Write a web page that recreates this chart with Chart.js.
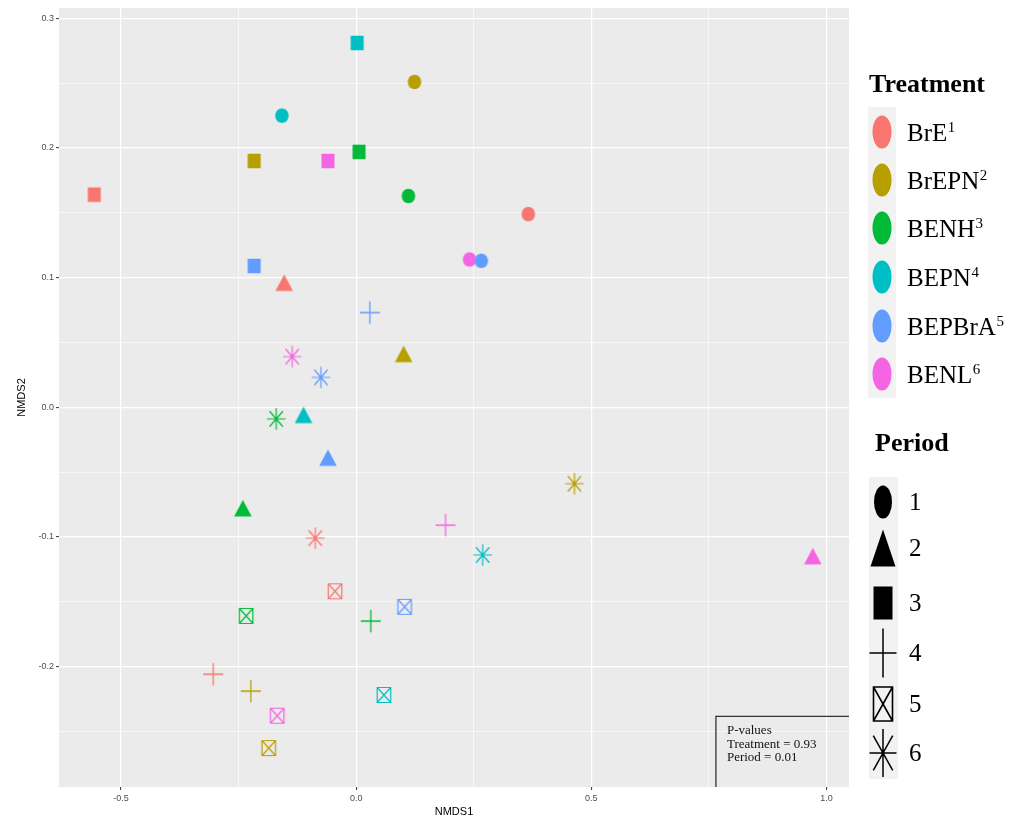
<!DOCTYPE html>
<html>
<head>
<meta charset="utf-8">
<script src="https://cdn.jsdelivr.net/npm/chart.js@4.4.1/dist/chart.umd.min.js"></script>
<style>
  html, body { margin: 0; padding: 0; background: #ffffff; }
  #wrap { width: 1012px; height: 820px; }
</style>
</head>
<body>
<div id="wrap"><canvas id="nmds" width="1012" height="820"></canvas></div>
<script>
// Treatments and sampling periods
const treatments = ['BrE', 'BrEPN', 'BENH', 'BEPN', 'BEPBrA', 'BENL'];
const treatmentNotes = ['1', '2', '3', '4', '5', '6'];
const periods = ['1', '2', '3', '4', '5', '6'];

// NMDS scores, one entry per period 1..6 (null = no sample)
const BrE_x    = [0.366, -0.153, -0.557, -0.304, -0.045, -0.087];
const BrE_y    = [0.149,  0.094,  0.164, -0.206, -0.142, -0.101];
const BrEPN_x  = [0.124,  0.101, -0.217, -0.224, -0.186,  0.464];
const BrEPN_y  = [0.251,  0.039,  0.190, -0.219, -0.263, -0.059];
const BENH_x   = [0.111, -0.241,  0.006,  0.031, -0.234, -0.170];
const BENH_y   = [0.163, -0.080,  0.197, -0.165, -0.161, -0.009];
const BEPN_x   = [-0.158, -0.112, 0.002,  null,   0.059,  0.269];
const BEPN_y   = [0.225, -0.008,  0.281,  null,  -0.222, -0.114];
const BEPBrA_x = [0.266, -0.060, -0.217,  0.029,  0.103, -0.075];
const BEPBrA_y = [0.113, -0.041,  0.109,  0.073, -0.154,  0.023];
const BENL_x   = [0.241,  0.971, -0.060,  0.190, -0.168, -0.136];
const BENL_y   = [0.114, -0.117,  0.190, -0.091, -0.238,  0.039];

// Axis ticks (major ones carry labels)
const xGridValues = [-0.5, -0.25, 0, 0.25, 0.5, 0.75, 1.0];
const xTickLabels = [-0.5, 0, 0.5, 1.0];
const yGridValues = [-0.25, -0.2, -0.15, -0.1, -0.05, 0, 0.05, 0.1, 0.15, 0.2, 0.25, 0.3];
const yTickLabels = [-0.2, -0.1, 0, 0.1, 0.2, 0.3];

// Test results shown in the corner box
const pValueLines = ['P-values', 'Treatment = 0.93', 'Period = 0.01'];

const seriesX = [BrE_x, BrEPN_x, BENH_x, BEPN_x, BEPBrA_x, BENL_x];
const seriesY = [BrE_y, BrEPN_y, BENH_y, BEPN_y, BEPBrA_y, BENL_y];

const hueColors = ['#F8766D', '#B79F00', '#00BA38', '#00BFC4', '#619CFF', '#F564E3'];
const periodShapes = ['circle', 'triangle', 'square', 'plus', 'sqcross', 'asterisk'];

const SERIF = '"Liberation Serif", "Times New Roman", serif';
const SANS = '"Liberation Sans", Arial, sans-serif';

// Draws one marker shape centred on (cx, cy); triangles are centred on their centroid
function drawShape(ctx, shape, cx, cy, w, h, color, lw) {
  ctx.save();
  ctx.fillStyle = color;
  ctx.strokeStyle = color;
  ctx.lineWidth = lw;
  ctx.lineCap = 'butt';
  const hw = w / 2, hh = h / 2;
  ctx.beginPath();
  if (shape === 'circle') {
    ctx.ellipse(cx, cy, hw, hh, 0, 0, Math.PI * 2);
    ctx.fill();
  } else if (shape === 'triangle') {
    ctx.moveTo(cx, cy - h * 2 / 3);
    ctx.lineTo(cx + hw, cy + h / 3);
    ctx.lineTo(cx - hw, cy + h / 3);
    ctx.closePath();
    ctx.fill();
  } else if (shape === 'square') {
    ctx.rect(cx - hw, cy - hh, w, h);
    ctx.fill();
  } else if (shape === 'plus') {
    ctx.moveTo(cx - hw, cy); ctx.lineTo(cx + hw, cy);
    ctx.moveTo(cx, cy - hh); ctx.lineTo(cx, cy + hh);
    ctx.stroke();
  } else if (shape === 'sqcross') {
    ctx.rect(cx - hw, cy - hh, w, h);
    ctx.moveTo(cx - hw, cy - hh); ctx.lineTo(cx + hw, cy + hh);
    ctx.moveTo(cx + hw, cy - hh); ctx.lineTo(cx - hw, cy + hh);
    ctx.stroke();
  } else if (shape === 'asterisk') {
    const dx = hw * 0.72, dy = hh * 0.72;
    ctx.moveTo(cx - hw, cy); ctx.lineTo(cx + hw, cy);
    ctx.moveTo(cx, cy - hh); ctx.lineTo(cx, cy + hh);
    ctx.moveTo(cx - dx, cy - dy); ctx.lineTo(cx + dx, cy + dy);
    ctx.moveTo(cx + dx, cy - dy); ctx.lineTo(cx - dx, cy + dy);
    ctx.stroke();
  }
  ctx.restore();
}

// Marker sprites used as point styles on the scatter
const markerSize = {
  circle:   [13.5, 14.5, 0],
  triangle: [17.5, 16.5, 0],
  square:   [13, 14.5, 0],
  plus:     [20, 22.5, 1.3],
  sqcross:  [13.5, 15, 1.2],
  asterisk: [18.5, 21.5, 1.2]
};
const spriteCache = {};
function sprite(shape, color) {
  const key = shape + color;
  if (!spriteCache[key]) {
    const c = document.createElement('canvas');
    c.width = 32; c.height = 32;
    const g = c.getContext('2d');
    const [w, h, lw] = markerSize[shape];
    drawShape(g, shape, 16, 16, w, h, color, lw);
    spriteCache[key] = c;
  }
  return spriteCache[key];
}

const datasets = treatments.map((name, t) => {
  const pts = [];
  periods.forEach((p, i) => {
    const x = seriesX[t][i], y = seriesY[t][i];
    if (x !== null && y !== null) pts.push({ x: x, y: y, period: i });
  });
  return {
    label: name,
    data: pts,
    pointRadius: 7,
    pointStyle: ctx => sprite(periodShapes[ctx.raw.period], hueColors[t]),
    backgroundColor: hueColors[t],
    borderColor: hueColors[t],
    showLine: false
  };
});

const isIn = (v, list) => list.some(m => Math.abs(m - v) < 1e-9);

// Grey panel behind the plotting area
const panelPlugin = {
  id: 'panel',
  beforeDraw(chart) {
    const a = chart.chartArea, ctx = chart.ctx;
    ctx.save();
    ctx.fillStyle = '#EBEBEB';
    ctx.fillRect(a.left, a.top, a.right - a.left, a.bottom - a.top);
    ctx.restore();
  }
};

// Corner box with the test results
const pValuePlugin = {
  id: 'pvalues',
  afterDatasetsDraw(chart) {
    const a = chart.chartArea, ctx = chart.ctx;
    const xs = chart.scales.x, ys = chart.scales.y;
    const bx = xs.getPixelForValue(0.765);
    const by = ys.getPixelForValue(-0.2385);
    ctx.save();
    ctx.beginPath();
    ctx.rect(a.left, a.top, a.right - a.left, a.bottom - a.top);
    ctx.clip();
    ctx.strokeStyle = '#333333';
    ctx.lineWidth = 1.3;
    ctx.beginPath();
    ctx.moveTo(bx, a.bottom + 2);
    ctx.lineTo(bx, by);
    ctx.lineTo(a.right + 2, by);
    ctx.stroke();
    ctx.fillStyle = '#111111';
    ctx.font = '13px ' + SERIF;
    ctx.textBaseline = 'alphabetic';
    pValueLines.forEach((s, i) => ctx.fillText(s, bx + 11, by + 18 + i * 13.5));
    ctx.restore();
  }
};

// Treatment (colour) and Period (shape) legends on the right
const legendPlugin = {
  id: 'sideLegend',
  afterDraw(chart) {
    const ctx = chart.ctx;
    ctx.save();
    ctx.fillStyle = '#000';
    ctx.textBaseline = 'alphabetic';
    ctx.font = 'bold 26px ' + SERIF;
    ctx.fillText('Treatment', 869, 92);

    ctx.fillStyle = '#F2F2F2';
    ctx.fillRect(868, 107, 28, 291);
    const tRows = [132, 180, 228, 277, 326, 374];
    treatments.forEach((name, i) => {
      const yc = tRows[i];
      drawShape(ctx, 'circle', 882, yc, 19, 33, hueColors[i], 0);
      ctx.fillStyle = '#000';
      ctx.font = '25px ' + SERIF;
      ctx.fillText(name, 907, yc + 8.5);
      const w = ctx.measureText(name).width;
      ctx.font = '15px ' + SERIF;
      ctx.fillText(treatmentNotes[i], 907 + w + 0.5, yc - 0.5);
    });

    ctx.fillStyle = '#000';
    ctx.font = 'bold 26px ' + SERIF;
    ctx.fillText('Period', 875, 451);

    ctx.fillStyle = '#F2F2F2';
    ctx.fillRect(869, 477, 29, 302);
    const pRows = [502, 548, 603, 653, 704, 753];
    const keySize = {
      circle: [18, 33, 0], triangle: [25, 37, 0], square: [19, 33, 0],
      plus: [27, 49, 1.5], sqcross: [19, 34, 1.6], asterisk: [27, 48, 1.5]
    };
    periods.forEach((p, i) => {
      const shape = periodShapes[i];
      const [w, h, lw] = keySize[shape];
      const cy = shape === 'triangle' ? pRows[i] + h / 6 : pRows[i];
      drawShape(ctx, shape, 883, cy, w, h, '#000', lw);
      ctx.fillStyle = '#000';
      ctx.font = '25px ' + SERIF;
      ctx.fillText(p, 909, pRows[i] + 8);
    });
    ctx.restore();
  }
};

new Chart(document.getElementById('nmds'), {
  type: 'scatter',
  data: { datasets: datasets },
  plugins: [panelPlugin, pValuePlugin, legendPlugin],
  options: {
    responsive: false,
    animation: false,
    events: [],
    layout: { padding: { top: 8, right: 163, left: 0, bottom: 0 } },
    plugins: { legend: { display: false }, tooltip: { enabled: false } },
    scales: {
      x: {
        type: 'linear',
        position: 'bottom',
        min: -0.632,
        max: 1.048,
        afterBuildTicks: s => { s.ticks = xGridValues.map(v => ({ value: v })); },
        afterFit: s => { s.height = 33; },
        border: { display: false },
        grid: {
          color: '#FFFFFF',
          lineWidth: c => isIn(c.tick.value, xTickLabels) ? 1.2 : 0.6,
          tickColor: c => isIn(c.tick.value, xTickLabels) ? '#333333' : 'rgba(0,0,0,0)',
          tickWidth: 1,
          tickLength: 3,
          drawTicks: true
        },
        ticks: {
          autoSkip: false,
          maxRotation: 0,
          padding: 3,
          color: '#4D4D4D',
          font: { family: SANS, size: 9 },
          callback: v => isIn(v, xTickLabels) ? v.toFixed(1) : ''
        },
        title: {
          display: true,
          text: 'NMDS1',
          color: '#000',
          font: { family: SANS, size: 11 },
          padding: { top: 0, bottom: 1 }
        }
      },
      y: {
        type: 'linear',
        position: 'left',
        min: -0.293,
        max: 0.308,
        afterBuildTicks: s => { s.ticks = yGridValues.map(v => ({ value: v })); },
        afterFit: s => { s.width = 59; },
        border: { display: false },
        grid: {
          color: '#FFFFFF',
          lineWidth: c => isIn(c.tick.value, yTickLabels) ? 1.2 : 0.6,
          tickColor: c => isIn(c.tick.value, yTickLabels) ? '#333333' : 'rgba(0,0,0,0)',
          tickWidth: 1,
          tickLength: 3,
          drawTicks: true
        },
        ticks: {
          autoSkip: false,
          padding: 2,
          color: '#4D4D4D',
          font: { family: SANS, size: 9 },
          callback: v => isIn(v, yTickLabels) ? v.toFixed(1) : ''
        },
        title: {
          display: true,
          text: 'NMDS2',
          color: '#000',
          font: { family: SANS, size: 11 },
          padding: { top: 15, bottom: 0 }
        }
      }
    }
  }
});
</script>
</body>
</html>
